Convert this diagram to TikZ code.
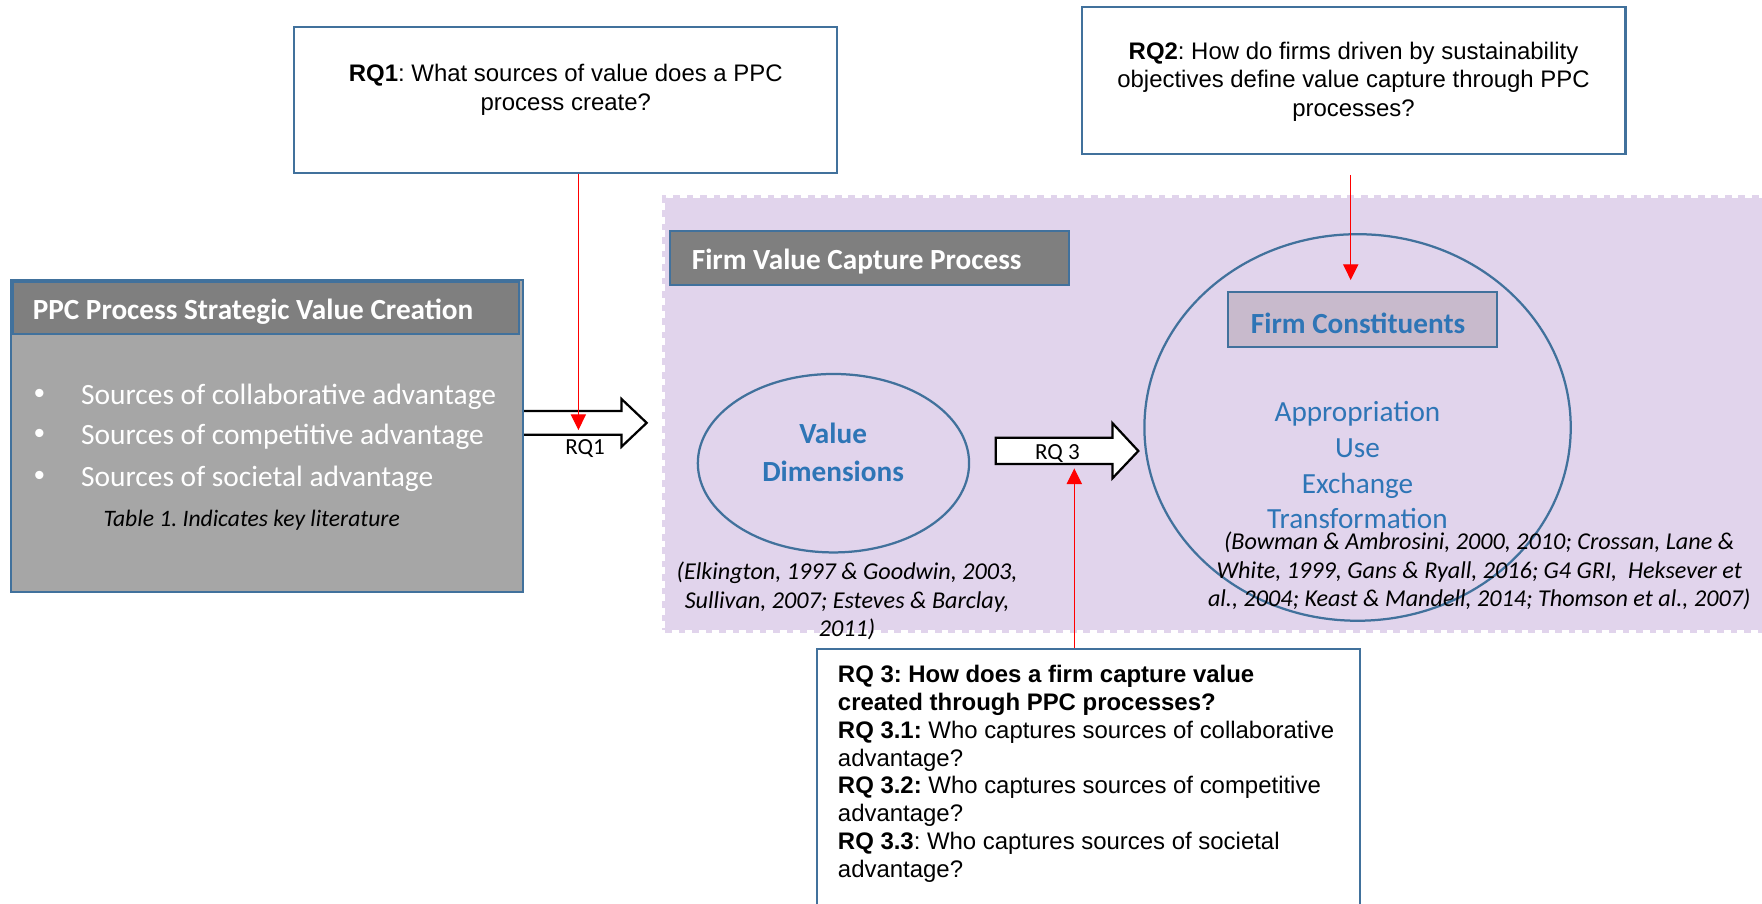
\documentclass[tikz,border=0pt]{standalone}
\usepackage{fontspec}
\setmainfont{Carlito}
\newfontfamily\arialfont{Liberation Sans}
\usetikzlibrary{arrows.meta,shapes.geometric}
\definecolor{frameblue}{HTML}{41719C}
\definecolor{headgray}{HTML}{7F7F7F}
\definecolor{bodygray}{HTML}{A6A6A6}
\definecolor{lavender}{HTML}{E1D4EC}
\definecolor{constfill}{HTML}{C8BACC}
\definecolor{textblue}{HTML}{2E75B6}
\newcommand{\sz}[2]{\fontsize{#1}{#2}\selectfont}
\frenchspacing
\begin{document}
\begin{tikzpicture}[x=1pt,y=-1pt,
  bluebox/.style={draw=frameblue, line width=1.8pt, inner sep=0pt},
  header/.style={bluebox, fill=headgray},
  qbox/.style={bluebox, fill=white},
  qtext/.style={font=\arialfont\sz{21.3}{25.2}, align=center, inner sep=0pt},
  bullettext/.style={anchor=west, text=white, font=\sz{26.2}{30}, inner sep=0pt},
  bulletdot/.style={text=white, font=\arialfont\sz{27}{30}, inner sep=0pt},
  headtext/.style={anchor=west, text=white, font=\bfseries\sz{26}{30}, inner sep=0pt},
  cite/.style={font=\itshape\sz{21.5}{25.3}, align=center, inner sep=0pt},
  blockarrow/.style={draw=black, line width=2pt, fill=white, line join=miter},
  redlink/.style={red, line width=1pt, -{Triangle[width=13.6pt,length=14pt]}},
  arrowlabel/.style={font=\sz{20.5}{24}, inner sep=0pt},
  oval/.style={ellipse, draw=frameblue, line width=2pt, inner sep=0pt},
]
\useasboundingbox (0,0) rectangle (1568,804);
\clip (0,0) rectangle (1568,804);

% lavender value-capture region with its dashed rim
\node[fill=lavender, draw=lavender, line width=5pt, dash pattern=on 6pt off 6pt,
      minimum width=990pt, minimum height=385pt, inner sep=0pt] (capture) at (1087,368.5) {};

% block arrow RQ1 (tail tucked under the left box)
\draw[blockarrow] (458,365.8) -- (553,365.8) -- (553,355) -- (575.5,376.3)
   -- (553,397.6) -- (553,386.8) -- (458,386.8) -- cycle;

% PPC strategic value creation panel
\node[bluebox, fill=bodygray, minimum width=455pt, minimum height=278pt] (ppc) at (237.5,388) {};
\node[header, minimum width=450pt, minimum height=46pt] (ppchead) at (237,274) {};
\node[headtext] (ppctitle) at (29,277) {PPC Process Strategic Value Creation};
\node[bulletdot] (d1) at (35,353) {•};
\node[bulletdot] (d2) at (35,388.6) {•};
\node[bulletdot] (d3) at (35,425.7) {•};
\node[bullettext] (s1) at (72,353) {Sources of collaborative advantage};
\node[bullettext] (s2) at (72,388.6) {Sources of competitive advantage};
\node[bullettext] (s3) at (72,425.7) {Sources of societal advantage};
\node[anchor=west, font=\itshape\sz{21}{25}, inner sep=0pt] (tab) at (92,463) {Table 1. Indicates key literature};
\node[arrowlabel] (rq1lab) at (520.6,399) {RQ1};

% research question boxes at the top
\node[qbox, minimum width=483pt, minimum height=130pt] (rq1) at (503.5,88.7) {};
\node[qtext, font=\arialfont\sz{21.3}{26.5}] (rq1q) at (503.5,80) {\textbf{RQ1}: What sources of value does a PPC\\process create?};
\node[qbox, minimum width=484pt, minimum height=130.5pt] (rq2) at (1204.5,71.75) {};
\node[qtext] (rq2q) at (1204.5,72.7) {\textbf{RQ2}: How do firms driven by sustainability\\objectives define value capture through PPC\\processes?};

% firm value capture process
\node[header, minimum width=355pt, minimum height=48.3pt] (fvc) at (773.7,229.5) {};
\node[headtext] (fvct) at (615.5,232.9) {Firm Value Capture Process};

\node[oval, minimum width=241.4pt, minimum height=158.8pt] (vd) at (741.7,412.2) {};
\node[font=\bfseries\sz{26}{34.3}, text=textblue, align=center, inner sep=0pt] (vdt) at (741.4,402.6) {Value\\Dimensions};
\node[cite] (citeL) at (753.8,535) {(Elkington, 1997 \& Goodwin, 2003,\\Sullivan, 2007; Esteves \& Barclay,\\2011)};

\draw[blockarrow] (886,389.5) -- (990,389.5) -- (990,376.6) -- (1013,401.3)
   -- (990,425.6) -- (990,413) -- (886,413) -- cycle;
\node[arrowlabel] (rq3lab) at (941,404) {RQ 3};

\node[oval, minimum width=379.4pt, minimum height=344pt] (fc) at (1208.1,380.4) {};
\node[bluebox, fill=constfill, minimum width=239.7pt, minimum height=48.4pt] (fcbox) at (1212.5,284.3) {};
\node[anchor=west, text=textblue, font=\bfseries\sz{26}{30}, inner sep=0pt] (fct) at (1113,287.7) {Firm Constituents};
\node[text=textblue, font=\sz{26}{31.7}, align=center, inner sep=0pt] (uses) at (1208,414) {Appropriation\\Use\\Exchange\\Transformation};
\node[cite] (citeR) at (1316.3,508.2) {(Bowman \& Ambrosini, 2000, 2010; Crossan, Lane \&\\White, 1999, Gans \& Ryall, 2016; G4 GRI,\ \ Heksever et\\al., 2004; Keast \& Mandell, 2014; Thomson et al., 2007)};

% research question 3 box (runs off the lower edge)
\node[qbox, anchor=north west, minimum width=483.5pt, minimum height=260pt] (rq3) at (726,577) {};
\node[anchor=north west, font=\arialfont\sz{21.3}{24.7}, align=left, inner sep=0pt] (rq3q) at (745.5,592)
  {\textbf{RQ 3: How does a firm capture value}\\
   \textbf{created through PPC processes?}\\
   \textbf{RQ 3.1:} Who captures sources of collaborative\\
   advantage?\\
   \textbf{RQ 3.2:} Who captures sources of competitive\\
   advantage?\\
   \textbf{RQ 3.3}: Who captures sources of societal\\
   advantage?};

% red links from the questions
\coordinate (rq1tip) at (514.7,382.7);
\draw[redlink] (rq1.south -| rq1tip) -- (rq1tip);
\coordinate (rq2from) at (1202,155.7);
\coordinate (rq2tip) at (1202,249.2);
\draw[redlink] (rq2from) -- (rq2tip);
\coordinate (rq3tip) at (956,416.8);
\draw[redlink] (rq3.north -| rq3tip) -- (rq3tip);
\end{tikzpicture}
\end{document}
